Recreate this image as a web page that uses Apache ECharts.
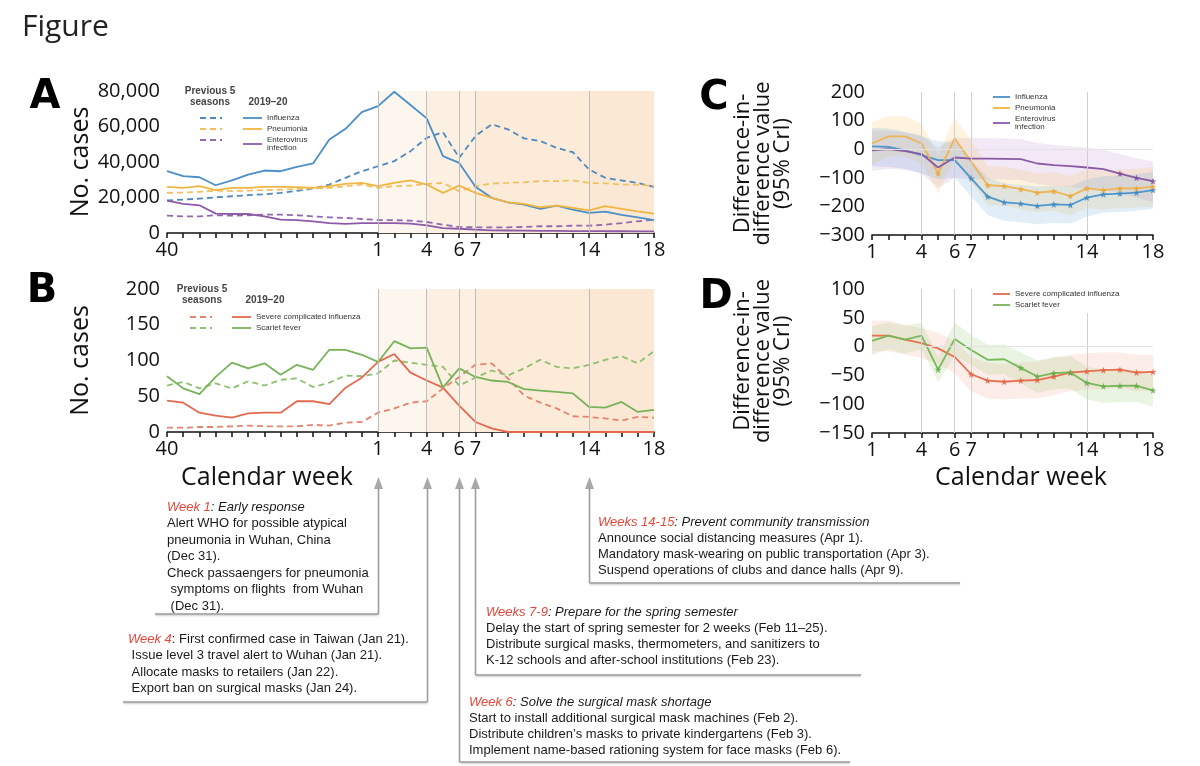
<!DOCTYPE html>
<html><head><meta charset="utf-8">
<script src="https://cdn.jsdelivr.net/npm/echarts@6/dist/echarts.min.js"></script>
<style>html,body{margin:0;padding:0;background:#fff}#c{width:1200px;height:766px}</style>
</head><body><div id="c"></div>
<script>
// ---------- categories ----------
const weeksAB = ['40','41','42','43','44','45','46','47','48','49','50','51','52','1','2','3','4','5','6','7','8','9','10','11','12','13','14','15','16','17','18'];
const weeksCD = ['1','2','3','4','5','6','7','8','9','10','11','12','13','14','15','16','17','18'];
const labelsAB = ['40','1','4','6','7','14','18'];
const labelsCD = ['1','4','6','7','14','18'];
const policyWeeks = ['1','4','6','7','14'];

// ---------- panel A (No. cases) ----------
const fluCur  = [34800,32000,31400,26900,29600,32900,35200,34800,37300,39200,52700,58700,68100,71500,79600,72100,64600,43300,39500,26000,19800,17300,16000,13600,15400,13200,11300,12000,10200,8800,7200];
const fluPrev = [18400,18800,19400,20100,20700,21300,21800,22600,23700,25000,27300,31100,34800,37600,40500,46100,53600,56800,42400,54600,61200,58400,53300,51800,48000,45500,35800,31100,29600,28200,26000];
const pneuCur = [26000,25400,26400,24100,25400,25400,26000,26000,25800,25400,26400,27700,28200,26400,28200,29600,27300,22600,26700,22600,19800,17300,16400,14500,15400,14100,12800,15100,13600,12200,10900];
const pneuPrev= [22600,22800,23200,23900,23600,23900,24200,24400,24800,25100,25400,26300,27300,25400,26400,26700,27700,28200,23500,26400,27900,28200,28600,29200,29200,29600,28200,28000,27300,27300,26400];
const entCur  = [18300,16400,15600,10900,10700,10700,9400,7500,7200,6600,5600,5100,5600,5600,5600,5300,4300,2800,2400,1900,1500,1400,1300,1200,1200,1100,1100,1000,1000,900,900];
const entPrev = [9800,9400,9400,10000,9800,10000,10400,10400,10000,9400,8800,8500,7900,7300,7200,7000,6200,4700,3400,3200,3200,3200,3400,3800,3800,4100,4100,4700,5600,6600,7500];

// ---------- panel B (No. cases) ----------
const sciCur  = [44,41,27,23,20,26,27,27,43,43,39,62,76,98,109,83,72,62,37,14,5,0,0,0,0,0,0,0,0,0,0];
const sciPrev = [6,6,7,7,8,9,8,8,8,10,9,13,14,27,33,41,43,61,77,94,96,75,51,41,33,22,21,19,16,21,20];
const sfCur   = [78,61,53,77,97,89,96,80,94,87,115,115,108,98,127,117,118,62,89,77,72,70,60,58,56,54,35,34,42,28,31];
const sfPrev  = [65,70,61,68,61,71,65,73,75,63,69,79,78,82,100,97,94,91,65,76,86,79,89,101,91,89,94,101,106,96,113];

// ---------- panel C (difference-in-difference, 95% CrI) ----------
const fluDid   = [10,8,-4,-21,-38,-38,-102,-166,-186,-190,-198,-193,-195,-169,-158,-155,-152,-143];
const fluUp    = [75,72,60,45,28,25,-40,-100,-120,-125,-130,-128,-130,-105,-95,-92,-88,-80];
const fluLo    = [-60,-62,-68,-85,-105,-100,-165,-230,-250,-255,-262,-258,-260,-235,-222,-220,-215,-208];
const pneuDid  = [20,45,45,20,-85,37,-44,-126,-129,-140,-152,-147,-164,-137,-143,-137,-137,-131];
const pneuUp   = [95,115,115,90,-20,110,30,-60,-62,-72,-85,-80,-95,-70,-75,-70,-70,-62];
const pneuLo   = [-55,-25,-25,-50,-155,-35,-115,-195,-198,-210,-220,-215,-232,-205,-212,-205,-205,-200];
const entDid   = [-4,0,-7,-17,-64,-29,-33,-33,-34,-35,-50,-56,-59,-64,-70,-85,-100,-112];
const entUp    = [65,65,58,50,5,40,38,38,37,36,22,15,10,5,-2,-18,-32,-42];
const entLo    = [-75,-68,-72,-85,-135,-100,-105,-105,-106,-108,-122,-128,-132,-138,-142,-155,-170,-185];
const sigFlu   = ['7','8','9','10','11','12','13','14','15','16','17','18'];
const sigPneu  = ['5','8','9','10','11','12','13','14','15','16','17','18'];
const sigEnt   = ['16','17','18'];

// ---------- panel D ----------
const sciDid = [19,19,12,6,-3,-18,-48,-59,-61,-59,-58,-52,-45,-43,-41,-40,-45,-44];
const sciUp  = [45,45,38,32,24,10,-18,-28,-30,-28,-26,-20,-14,-12,-10,-10,-14,-14];
const sciLo  = [-8,-8,-14,-20,-30,-46,-78,-90,-92,-90,-90,-84,-77,-75,-73,-72,-77,-76];
const sfDid  = [10,19,12,19,-40,13,-6,-23,-22,-37,-52,-46,-45,-63,-69,-68,-68,-76];
const sfUp   = [35,42,36,42,-18,42,20,3,4,-10,-24,-18,-17,-34,-40,-40,-40,-48];
const sfLo   = [-15,-4,-12,-4,-62,-16,-32,-49,-48,-64,-80,-74,-73,-92,-98,-96,-96,-104];
const sigSci = ['7','8','9','10','11','12','13','14','15','16','17','18'];
const sigSf  = ['5','10','11','12','13','14','15','16','17','18'];

// ---------- annotation texts ----------
const notes = [
  {week:'1', head:['Week 1', ': Early response'], headItalic:true,
   lines:['Alert WHO for possible atypical','pneumonia in Wuhan, China','(Dec 31).','Check passaengers for pneumonia',' symptoms on flights  from Wuhan',' (Dec 31).']},
  {week:'4', head:['Week 4', ': First confirmed case in Taiwan (Jan 21).'], headItalic:false,
   lines:[' Issue level 3 travel alert to Wuhan (Jan 21).',' Allocate masks to retailers (Jan 22).',' Export ban on surgical masks (Jan 24).']},
  {week:'14', head:['Weeks 14-15', ': Prevent community transmission'], headItalic:true,
   lines:['Announce social distancing measures (Apr 1).','Mandatory mask-wearing on public transportation (Apr 3).','Suspend operations of clubs and dance halls (Apr 9).']},
  {week:'7', head:['Weeks 7-9', ': Prepare for the spring semester'], headItalic:true,
   lines:['Delay the start of spring semester for 2 weeks (Feb 11\u201325).','Distribute surgical masks, thermometers, and sanitizers to','K-12 schools and after-school institutions (Feb 23).']},
  {week:'6', head:['Week 6', ': Solve the surgical mask shortage'], headItalic:true,
   lines:['Start to install additional surgical mask machines (Feb 2).','Distribute children\u2019s masks to private kindergartens (Feb 3).','Implement name-based rationing system for face masks (Feb 6).']}
];

// ---------- styling ----------
const C = {flu:'#4a8fc9', pneu:'#f0b640', ent:'#8e5aa8', sci:'#e5694f', sf:'#76b358'};
const CD = {flu:'#4f88bf', pneu:'#f2c060', ent:'#9468b0', sci:'#e4846f', sf:'#8cc070'};
const FONT = '"Open Sans", sans-serif';
const TXT = '"Liberation Sans", Arial, sans-serif';
const STAR = 'path://M0,-10L2.35,-3.24L9.51,-3.09L3.8,1.24L5.88,8.09L0,4L-5.88,8.09L-3.8,1.24L-9.51,-3.09L-2.35,-3.24Z';
const minus = v => String(v).replace('-', '\u2212');

const chart = echarts.init(document.getElementById('c'), null, {renderer:'canvas'});

const axisCommon = {
  axisLine:{onZero:false, lineStyle:{color:'#111', width:1.5}},
  axisTick:{length:5, lineStyle:{color:'#111', width:1.5}},
  splitLine:{show:false}
};
function xAx(idx, cats, shown){
  return Object.assign({}, axisCommon, {
    type:'category', gridIndex:idx, data:cats, boundaryGap:false,
    axisTick:{length:5, interval:0, lineStyle:{color:'#111', width:1.5}},
    axisLabel:{interval:(i,v)=>shown.indexOf(v)>=0, fontSize:20, color:'#111', fontFamily:FONT, margin:7}
  });
}
function yAx(idx, min, max, interval, name, gap, fmt, nameSize, lh){
  return Object.assign({}, axisCommon, {
    type:'value', gridIndex:idx, min, max, interval,
    name, nameLocation:'middle', nameGap:gap,
    nameTextStyle:{fontSize:nameSize, color:'#111', fontFamily:FONT, lineHeight:lh},
    axisLabel:{fontSize:20, color:'#111', fontFamily:FONT, margin:7, formatter:fmt}
  });
}
function line(name, data, color, xi, dashed, extra){
  return Object.assign({
    type:'line', name, data, xAxisIndex:xi, yAxisIndex:xi, symbol:'none', z:3,
    lineStyle:{color, width:1.8, type: dashed ? [6,4] : 'solid'}, itemStyle:{color}
  }, extra||{});
}
function band(id, lo, up, color, xi){
  return [
    {type:'line', name:id+'_lo', data:lo, stack:id, stackStrategy:'all', xAxisIndex:xi, yAxisIndex:xi,
     symbol:'none', lineStyle:{opacity:0}, silent:true, z:1},
    {type:'line', name:id+'_hi', data:up.map((u,i)=>u-lo[i]), stack:id, stackStrategy:'all', xAxisIndex:xi, yAxisIndex:xi,
     symbol:'none', lineStyle:{opacity:0}, areaStyle:{color, opacity:1}, silent:true, z:1}
  ];
}
function stars(name, weeks, vals, color, xi){
  return {type:'scatter', name, xAxisIndex:xi, yAxisIndex:xi, symbol:STAR, symbolSize:7, z:5,
    itemStyle:{color}, data: weeks.map(w=>[w, vals[weeksCD.indexOf(w)]])};
}
const shadeBands = [['1','4','#fdf6ee'],['4','7','#fcf0e3'],['7','14','#fcebd9'],['14','18','#fbe8d4']];
function shading(){
  return {silent:true, data: shadeBands.map(b=>[{xAxis:b[0], itemStyle:{color:b[2]}},{xAxis:b[1]}])};
}
function vlinesAB(){
  return {silent:true, symbol:'none', label:{show:false}, lineStyle:{color:'#bdbdbd', width:1, type:'solid'},
    data: policyWeeks.map(w=>({xAxis:w}))};
}
function vlinesCD(top14){
  const d = ['4','6','7'].map(w=>({xAxis:w}));
  d.push(top14 === null ? {xAxis:'14'} : [{coord:['14',top14]},{coord:['14',-150]}]);
  d.push({yAxis:0, lineStyle:{color:'#e3e3e3'}});
  return {silent:true, symbol:'none', label:{show:false}, lineStyle:{color:'#cfcfcf', width:1, type:'solid'}, data:d};
}
const legendCommon = {orient:'vertical', icon:'rect', itemWidth:19, itemHeight:1.8, itemGap:3, padding:0,
  textStyle:{fontSize:8, lineHeight:8, color:'#333', fontFamily:TXT},
  formatter: n => n === 'Enterovirus infection' ? 'Enterovirus\ninfection' : n};

const option = {
  animation:false,
  backgroundColor:'#fff',
  grid:[
    {left:167, top:91, width:487, height:142},
    {left:167, top:289, width:487, height:143},
    {left:872, top:92, width:281, height:143},
    {left:872, top:289, width:281, height:144}
  ],
  xAxis:[xAx(0,weeksAB,labelsAB), xAx(1,weeksAB,labelsAB), xAx(2,weeksCD,labelsCD), xAx(3,weeksCD,labelsCD)],
  yAxis:[
    yAx(0,0,80000,20000,'No. cases',74, v=>v.toLocaleString('en-US'), 25, 25),
    yAx(1,0,200,50,'No. cases',74, v=>String(v), 25, 25),
    yAx(2,-300,200,100,'Difference-in-\ndifference value\n(95% CrI)',79, minus, 22, 20),
    yAx(3,-150,100,50,'Difference-in-\ndifference value\n(95% CrI)',79, minus, 22, 20)
  ],
  legend:[
    Object.assign({}, legendCommon, {left:243, top:114, data:['Influenza','Pneumonia','Enterovirus infection']}),
    Object.assign({}, legendCommon, {left:232, top:313, data:['Severe complicated influenza','Scarlet fever']}),
    Object.assign({}, legendCommon, {left:993, top:93, itemWidth:17, data:['Influenza','Pneumonia','Enterovirus infection']}),
    Object.assign({}, legendCommon, {left:993, top:290, itemWidth:17, data:['Severe complicated influenza','Scarlet fever']})
  ],
  series:[
    // A
    line('Influenza (prev)', fluPrev, CD.flu, 0, true, {markArea:shading(), markLine:vlinesAB()}),
    line('Pneumonia (prev)', pneuPrev, CD.pneu, 0, true),
    line('Enterovirus (prev)', entPrev, CD.ent, 0, true),
    line('Influenza', fluCur, C.flu, 0, false),
    line('Pneumonia', pneuCur, C.pneu, 0, false),
    line('Enterovirus infection', entCur, C.ent, 0, false),
    // B
    line('Severe complicated (prev)', sciPrev, CD.sci, 1, true, {markArea:shading(), markLine:vlinesAB()}),
    line('Scarlet fever (prev)', sfPrev, CD.sf, 1, true),
    line('Severe complicated influenza', sciCur, C.sci, 1, false),
    line('Scarlet fever', sfCur, C.sf, 1, false),
    // C
    ...band('bEnt', entLo, entUp, 'rgba(200,150,210,0.22)', 2),
    ...band('bPneu', pneuLo, pneuUp, 'rgba(245,195,90,0.2)', 2),
    ...band('bFlu', fluLo, fluUp, 'rgba(110,170,215,0.2)', 2),
    line('Influenza', fluDid, '#4c98cc', 2, false, {markLine:vlinesCD(null)}),
    line('Pneumonia', pneuDid, '#efb552', 2, false),
    line('Enterovirus infection', entDid, '#8a5aa6', 2, false),
    stars('fluSig', sigFlu, fluDid, '#3d85bd', 2),
    stars('pneuSig', sigPneu, pneuDid, '#e9a63a', 2),
    stars('entSig', sigEnt, entDid, '#7c4a9a', 2),
    // D
    ...band('bSci', sciLo, sciUp, 'rgba(240,140,120,0.16)', 3),
    ...band('bSf', sfLo, sfUp, 'rgba(150,200,110,0.2)', 3),
    line('Severe complicated influenza', sciDid, '#e8704f', 3, false, {markLine:vlinesCD(58)}),
    line('Scarlet fever', sfDid, '#7ab85c', 3, false),
    stars('sciSig', sigSci, sciDid, '#e06040', 3),
    stars('sfSig', sigSf, sfDid, '#65a848', 3)
  ]
};
chart.setOption(option);

// ---------- graphics (letters, legend headers, annotations) ----------
const g = [];
function txt(x, y, text, size, opt){
  g.push({type:'text', x, y, silent:true, style:Object.assign({text, fill:'#111', font: size+'px '+FONT, align:'left', verticalAlign:'middle'}, opt||{})});
}
txt(22, 27, 'Figure', 30, {fill:'#222'});
[['A',45,98],['B',42,292],['C',714,99],['D',716,298]].forEach(l=>{
  txt(l[1], l[2], l[0], 40, {font:'bold 40px "DejaVu Sans", sans-serif', align:'center', fill:'#000'});
});
txt(267, 478, 'Calendar week', 25, {align:'center'});
txt(1021, 478, 'Calendar week', 25, {align:'center'});
// legend headers and dashed samples
const hdr = {font:'600 10px '+TXT, fill:'#444', align:'center'};
txt(210, 91, 'Previous 5', 10, hdr); txt(210, 102, 'seasons', 10, hdr); txt(268, 102, '2019\u201320', 10, hdr);
txt(202, 289, 'Previous 5', 10, hdr); txt(202, 300, 'seasons', 10, hdr); txt(265, 300, '2019\u201320', 10, hdr);
function dash(x1, x2, y, color){
  g.push({type:'line', silent:true, shape:{x1, y1:y, x2, y2:y}, style:{stroke:color, lineWidth:1.8, lineDash:[6,4]}});
}
dash(200,222,118,CD.flu); dash(200,222,129,CD.pneu); dash(200,222,140,CD.ent);
dash(190,212,317,CD.sci); dash(190,212,328,CD.sf);

// annotations
const xOf = w => chart.convertToPixel({xAxisIndex:1}, weeksAB.indexOf(w));
const boxGeom = {
  '1': {tx:167, hx:167, y0:507, dy:16.5, by:614, bx:155},
  '4': {tx:128, hx:128, y0:639, dy:16.5, by:702, bx:123},
  '14':{tx:598, hx:598, y0:522, dy:16.3, by:583, bx:960},
  '7': {tx:486, hx:486, y0:612, dy:16.2, by:675, bx:861},
  '6': {tx:469, hx:469, y0:702, dy:16.2, by:762, bx:850}
};
const RED = '#e5473a', GRAY = '#9d9d9d';
notes.forEach(n=>{
  const b = boxGeom[n.week];
  const ax = Math.round(xOf(n.week)) + 0.5;
  g.push({type:'polygon', silent:true, shape:{points:[[ax,477],[ax-4.5,489],[ax+4.5,489]]}, style:{fill:'#a8a8a8'}});
  g.push({type:'line', silent:true, shape:{x1:ax, y1:488, x2:ax, y2:b.by}, style:{stroke:GRAY, lineWidth:1.6}});
  g.push({type:'line', silent:true, shape:{x1:Math.min(ax,b.bx), y1:b.by, x2:Math.max(ax,b.bx), y2:b.by},
    style:{stroke:GRAY, lineWidth:1.6, shadowBlur:2, shadowColor:'rgba(0,0,0,0.25)', shadowOffsetY:1}});
  const it = n.headItalic ? 'italic ' : '';
  g.push({type:'text', silent:true, x:b.hx, y:b.y0, style:{
    text:'{r|'+n.head[0]+'}{b|'+n.head[1]+'}', verticalAlign:'middle',
    rich:{r:{fill:RED, font:'italic 13px '+TXT}, b:{fill:'#1a1a1a', font:it+'13px '+TXT}}}});
  n.lines.forEach((s,i)=>{
    g.push({type:'text', silent:true, x:b.tx, y:b.y0 + (i+1)*b.dy, style:{text:s, fill:'#1a1a1a', font:'13px '+TXT, verticalAlign:'middle'}});
  });
});
chart.setOption({graphic:g});
</script></body></html>
